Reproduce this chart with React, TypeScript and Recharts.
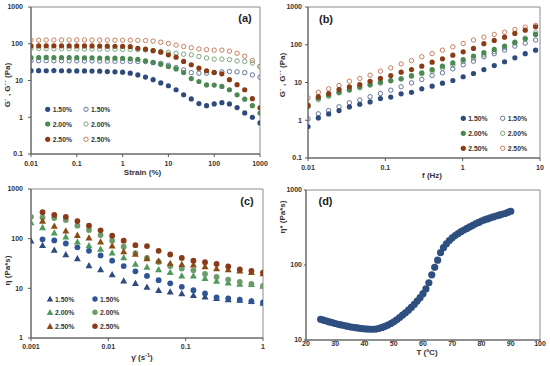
import React from 'react';
import { ScatterChart, Scatter, XAxis, YAxis, ReferenceArea } from 'recharts';

// ---------- (a) strain sweep ----------
const strainPct = [0.01, 0.0147, 0.0215, 0.0316, 0.0464, 0.0681, 0.1, 0.147, 0.215, 0.316, 0.464, 0.681, 1, 1.47, 2.15, 3.16, 4.64, 6.81, 10, 14.7, 21.5, 31.6, 46.4, 68.1, 100, 147, 215, 316, 464, 681, 1000];
const aGp150 = [18.5, 18.5, 18.4, 18.6, 18.4, 18.3, 18.2, 18.2, 18, 17.9, 17.5, 17.2, 16.8, 15.8, 14.2, 12.4, 10.5, 8.6, 7.2, 5.6, 4.1, 3.15, 2.35, 2.07, 2.3, 2.5, 2.3, 1.83, 1.31, 1.0, 0.7];
const aGpp150 = [34.5, 34.5, 34.6, 34.4, 34.5, 34.3, 34.2, 34, 34, 33.8, 33.6, 33.4, 33, 33, 32.8, 32.6, 30.6, 29.4, 26, 22.5, 19.4, 16.4, 15.8, 15.8, 16.4, 17.2, 17.5, 17.2, 16.4, 14.2, 12.3];
const aGp200 = [42, 42, 42.5, 42, 42, 42, 41.8, 41.5, 41.5, 41, 41, 40.5, 40, 39, 37.6, 34.5, 31, 27.6, 24, 20.6, 16.4, 11.3, 9.4, 7.6, 7.5, 6.9, 5.6, 4.1, 3.1, 2.07, 1.3];
const aGpp200 = [75, 74, 74, 73, 73, 73, 72, 72, 72, 71, 71, 71, 70, 70, 69, 68, 65, 62, 58, 55, 52, 50, 45, 41, 38, 38, 37, 34, 33, 30, 24];
const aGp250 = [87, 87, 88, 88, 88, 87.5, 87, 87, 87, 86.5, 86, 85.5, 85, 83, 75, 71, 65, 59, 50, 43, 33, 26.8, 21.7, 18.4, 16.6, 15.2, 10.5, 7.7, 5.6, 3.2, 1.8];
const aGpp250 = [125, 125, 126, 126, 127, 127, 127, 127, 126, 126, 126, 125, 125, 125, 124, 122, 118, 110, 102, 92, 84, 78, 72, 69, 67, 67, 63, 55, 46, 35, 24];
const strainTicks = [0.01, 0.1, 1, 10, 100, 1000];
const modTicks = [0.1, 1, 10, 100, 1000];

// ---------- (b) frequency sweep ----------
const freqHz = [0.01, 0.0136, 0.0185, 0.0252, 0.0343, 0.0467, 0.0635, 0.0864, 0.1175, 0.16, 0.218, 0.296, 0.403, 0.548, 0.746, 1.015, 1.38, 1.88, 2.56, 3.48, 4.73, 6.44, 8.77];
const bGp150 = [0.68, 1.15, 1.47, 1.8, 2.25, 2.65, 3.05, 3.75, 4.1, 5.0, 5.5, 6.8, 8, 9.6, 11.3, 14.2, 17.3, 22, 28, 35.5, 45, 58, 72];
const bGpp150 = [1.09, 1.48, 1.8, 2.27, 2.9, 3.4, 4.2, 5.1, 6.25, 7.7, 9.8, 12, 15.3, 18, 23, 29.5, 36.6, 48, 58, 72, 92, 110, 133];
const bGp200 = [2.3, 3.8, 4.6, 5.5, 6.5, 7.7, 8.8, 10.2, 11.3, 12.5, 15.3, 18, 22, 27, 33, 40.5, 50, 61.5, 75, 92, 117, 144, 188];
const bGpp200 = [2.6, 3.5, 4.3, 5.3, 6.2, 7.2, 8.5, 9.6, 11, 12.5, 14.5, 17, 20, 24, 29, 36, 44, 54, 66, 84, 110, 150, 210];
const bGp250 = [2.45, 4.2, 5.1, 6.5, 7.7, 8.8, 10.8, 12.8, 15.3, 18.8, 22, 27, 34.5, 42.5, 53, 65, 80, 107, 130, 159, 200, 243, 300];
const bGpp250 = [3.93, 5.5, 6.8, 8.3, 10.8, 12.8, 15.6, 20, 24.5, 31, 38, 48, 58.5, 72, 88, 108, 133, 159, 188, 215, 254, 293, 325];
const freqTicks = [0.01, 0.1, 1, 10];

// ---------- (c) flow curves ----------
const shearRate = [0.001, 0.00141, 0.002, 0.00282, 0.00398, 0.00562, 0.00794, 0.0112, 0.0158, 0.0224, 0.0316, 0.0447, 0.0631, 0.0891, 0.126, 0.178, 0.251, 0.355, 0.501, 0.708, 1];
const cTri150 = [91, 74, 59, 48, 40, 29, 24, 19, 14.2, 12.7, 10.7, 9.2, 8.5, 7.9, 7.3, 6.8, 6.3, 6.0, 5.8, 5.5, 5.1];
const cCir150 = [null, 97, 92, 80, 67, 57, 46, 36, 28, 22, 17.8, 14.6, 12.6, 10.7, 9.2, 7.9, 6.6, 6.3, 5.9, 5.5, 5.2];
const cTri200 = [211, 169, 132, 110, 87, 73, 62, 52, 42, 31, 27, 24, 21, 18, 18, 16, 14, 13, 12.3, 12.1, 11.2];
const cCir200 = [275, 268, 260, 237, 183, 149, 118, 91, 69, 51, 41, 34, 28, 25, 23, 19.5, 17, 15, 13.5, 12.3, 11.2];
const cTri250 = [null, 226, 180, 145, 118, 104, 87, 72, 55, 49, 40, 36, 32, 30.5, 30, 27.5, 25, 24, 22.7, 21, 20];
const cCir250 = [null, 342, 300, 275, 226, 183, 147, 115, 91, 74, 71, 57, 48, 41, 36, 33.5, 31, 27.5, 24, 22.5, 20.8];
const rateTicks = [0.001, 0.01, 0.1, 1];
const viscTicks = [1, 10, 100, 1000];

// ---------- (d) temperature ramp ----------
const tempC = [25, 26, 27, 28, 29, 30, 31, 32, 33, 34, 35, 36, 37, 38, 39, 40, 41, 42, 43, 44, 45, 46, 47, 48, 49, 50, 51, 52, 53, 54, 55, 56, 57, 58, 59, 60, 61, 62, 63, 64, 65, 66, 67, 68, 69, 70, 71, 72, 73, 74, 75, 76, 77, 78, 79, 80, 81, 82, 83, 84, 85, 86, 87, 88, 89, 90];
const etaStar = [18.9, 18.4, 17.9, 17.4, 17.0, 16.6, 16.2, 15.9, 15.6, 15.3, 15.0, 14.8, 14.6, 14.4, 14.2, 14.1, 14.0, 13.9, 13.9, 14.0, 14.3, 14.7, 15.2, 15.8, 16.6, 17.5, 18.6, 19.9, 21.4, 23.1, 25.0, 27.2, 29.8, 33.0, 36.7, 41.5, 48, 58, 74, 93, 116, 146, 170, 192, 212, 230, 247, 263, 278, 293, 307, 322, 338, 354, 370, 385, 399, 412, 425, 438, 450, 462, 474, 486, 503, 521];
const tempTicks = [20, 30, 40, 50, 60, 70, 80, 90, 100];
const etaTicks = [10, 100, 1000];

const FONT = '"Liberation Sans", Arial, sans-serif';
const INK = '#333333';
const AXIS = '#595959';
const FRAME = '#8c8c8c';

const BLUE = '#2f4b7e';
const BLUE_OPEN = '#53688f';
const GREEN = '#4a8a52';
const GREEN_OPEN = '#6f9c70';
const RED = '#8a3c14';
const RED_OPEN = '#c3714f';

type Kind = 'dot' | 'ring' | 'tri';

const pts = (xs: number[], ys: (number | null)[]) =>
  xs.map((x, i) => ({ x, y: ys[i] })).filter((p) => p.y != null);

const mark = (kind: Kind, color: string, r: number) => (props: any) => {
  const { cx, cy } = props;
  if (cx == null || cy == null) return <g />;
  if (kind === 'tri') {
    const h = r * 1.2;
    return <path d={`M${cx},${cy - h} L${cx + h},${cy + h * 0.8} L${cx - h},${cy + h * 0.8} Z`} fill={color} />;
  }
  if (kind === 'ring') return <circle cx={cx} cy={cy} r={r - 0.4} fill="none" stroke={color} strokeWidth={0.9} />;
  return <circle cx={cx} cy={cy} r={r} fill={color} />;
};

const tickStyle = { fontSize: 7, fontWeight: 700, fill: INK, fontFamily: FONT };
const titleStyle: React.CSSProperties = { fontSize: 8, fontWeight: 700, fill: INK, fontFamily: FONT };

const xTitle = (text: React.ReactNode, dy: number, dx: number) => (p: any) => {
  const vb = p.viewBox;
  return (
    <text x={vb.x + vb.width / 2 + dx} y={vb.y + dy} textAnchor="middle" style={titleStyle}>
      {text}
    </text>
  );
};

const yTitle = (text: string, x: number, dy: number) => (p: any) => {
  const vb = p.viewBox;
  const cy = vb.y + vb.height / 2 + dy;
  return (
    <text x={x} y={cy} transform={`rotate(-90 ${x} ${cy})`} textAnchor="middle" dominantBaseline="central" style={titleStyle}>
      {text}
    </text>
  );
};

interface Entry { x: number; y: number; kind: Kind; color: string; label: string; r: number }

const Overlay = ({ tag, tagX, tagY, entries }: { tag: string; tagX: number; tagY: number; entries: Entry[] }) => (
  <svg width={275} height={183} style={{ position: 'absolute', left: 0, top: 0, pointerEvents: 'none' }}>
    <text x={tagX} y={tagY} textAnchor="middle" dominantBaseline="central" style={{ fontSize: 11, fontWeight: 700, fill: '#222', fontFamily: FONT }}>
      {tag}
    </text>
    {entries.map((e, i) => (
      <g key={i}>
        {mark(e.kind, e.color, e.r)({ cx: e.x, cy: e.y })}
        <text x={e.x + 5} y={e.y} dominantBaseline="central" style={{ fontSize: 6.8, fontWeight: 700, fill: INK, fontFamily: FONT }}>
          {e.label}
        </text>
      </g>
    ))}
  </svg>
);

const legendRows = (x1: number, x2: number, ys: number[], left: [Kind, string][], right: [Kind, string][], r: number): Entry[] => {
  const labels = ['1.50%', '2.00%', '2.50%'];
  const out: Entry[] = [];
  ys.forEach((y, i) => {
    out.push({ x: x1, y, kind: left[i][0], color: left[i][1], label: labels[i], r });
    out.push({ x: x2, y, kind: right[i][0], color: right[i][1], label: labels[i], r });
  });
  return out;
};

const Panel = ({ left, top, children }: { left: number; top: number; children: React.ReactNode }) => (
  <div style={{ position: 'absolute', left, top, width: 275, height: 183 }}>{children}</div>
);

const PanelA = () => {
  const series: [number[], Kind, string][] = [
    [aGpp250, 'ring', RED_OPEN],
    [aGpp200, 'ring', GREEN_OPEN],
    [aGpp150, 'ring', BLUE_OPEN],
    [aGp250, 'dot', RED],
    [aGp200, 'dot', GREEN],
    [aGp150, 'dot', BLUE],
  ];
  return (
    <Panel left={0} top={0}>
      <ScatterChart width={275} height={183} margin={{ top: 7, right: 15, bottom: 0, left: 0 }}>
        <XAxis type="number" dataKey="x" scale="log" domain={[0.01, 1000]} ticks={strainTicks} interval={0} allowDataOverflow
          height={29} tickSize={3} tickMargin={4} tick={tickStyle} stroke={AXIS} label={xTitle('Strain (%)', 20.5, -3)} />
        <YAxis type="number" dataKey="y" scale="log" domain={[0.1, 1000]} ticks={modTicks} interval={0} allowDataOverflow
          width={31} tickSize={3} tickMargin={5} tick={tickStyle} stroke={AXIS} label={yTitle('G´ , G´´ (Pa)', 7, 4.5)} />
        <ReferenceArea x1={0.01} x2={1000} y1={0.1} y2={1000} fill="none" stroke={FRAME} strokeWidth={1} />
        {series.map(([ys, kind, color], i) => (
          <Scatter key={i} data={pts(strainPct, ys)} shape={mark(kind, color, 2.6)} isAnimationActive={false} />
        ))}
      </ScatterChart>
      <Overlay tag="(a)" tagX={245} tagY={18.3}
        entries={legendRows(47.7, 86, [109.3, 124, 139.3],
          [['dot', BLUE], ['dot', GREEN], ['dot', RED]],
          [['ring', BLUE_OPEN], ['ring', GREEN_OPEN], ['ring', RED_OPEN]], 2.6)} />
    </Panel>
  );
};

const PanelB = () => {
  const series: [number[], Kind, string][] = [
    [bGpp250, 'ring', RED_OPEN],
    [bGpp200, 'ring', GREEN_OPEN],
    [bGpp150, 'ring', BLUE_OPEN],
    [bGp200, 'dot', GREEN],
    [bGp250, 'dot', RED],
    [bGp150, 'dot', BLUE],
  ];
  return (
    <Panel left={275} top={0}>
      <ScatterChart width={275} height={183} margin={{ top: 7, right: 10, bottom: 0, left: 0 }}>
        <XAxis type="number" dataKey="x" scale="log" domain={[0.01, 10]} ticks={freqTicks} interval={0} allowDataOverflow
          height={25} tickSize={3} tickMargin={4} tick={tickStyle} stroke={AXIS} label={xTitle('f (Hz)', 20, 8)} />
        <YAxis type="number" dataKey="y" scale="log" domain={[0.1, 1000]} ticks={modTicks} interval={0} allowDataOverflow
          width={33} tickSize={3} tickMargin={3} tick={tickStyle} stroke={AXIS} label={yTitle('G´ , G´´ (Pa)', 7, -7.5)} />
        <ReferenceArea x1={0.01} x2={10} y1={0.1} y2={1000} fill="none" stroke={FRAME} strokeWidth={1} />
        {series.map(([ys, kind, color], i) => (
          <Scatter key={i} data={pts(freqHz, ys)} shape={mark(kind, color, 2.6)} isAnimationActive={false} />
        ))}
      </ScatterChart>
      <Overlay tag="(b)" tagX={51} tagY={18.7}
        entries={legendRows(188.3, 227.7, [118.3, 133.3, 148.3],
          [['dot', BLUE], ['dot', GREEN], ['dot', RED]],
          [['ring', BLUE_OPEN], ['ring', GREEN_OPEN], ['ring', RED_OPEN]], 2.6)} />
    </Panel>
  );
};

const C_TRI150 = '#2f4b7e';
const C_CIR150 = '#2f5596';
const C_TRI200 = '#4f9a5c';
const C_CIR200 = '#6d9b6a';
const C_TRI250 = '#8b4b16';
const C_CIR250 = '#8a3a18';

const PanelC = () => {
  const series: [(number | null)[], Kind, string][] = [
    [cTri150, 'tri', C_TRI150],
    [cCir150, 'dot', C_CIR150],
    [cTri200, 'tri', C_TRI200],
    [cCir200, 'dot', C_CIR200],
    [cTri250, 'tri', C_TRI250],
    [cCir250, 'dot', C_CIR250],
  ];
  return (
    <Panel left={0} top={183}>
      <ScatterChart width={275} height={183} margin={{ top: 6, right: 12, bottom: 0, left: 0 }}>
        <XAxis type="number" dataKey="x" scale="log" domain={[0.001, 1]} ticks={rateTicks} interval={0} allowDataOverflow
          height={28} tickSize={3} tickMargin={3} tick={tickStyle} stroke={AXIS}
          label={xTitle(<>γ̇ (s<tspan dy={-2.5} fontSize={5.5}>-1</tspan><tspan dy={2.5}>)</tspan></>, 21.5, -5)} />
        <YAxis type="number" dataKey="y" scale="log" domain={[1, 1000]} ticks={viscTicks} interval={0} allowDataOverflow
          width={31} tickSize={3} tickMargin={5} tick={tickStyle} stroke={AXIS} label={yTitle('η (Pa*s)', 7, 7)} />
        <ReferenceArea x1={0.001} x2={1} y1={1} y2={1000} fill="none" stroke={FRAME} strokeWidth={1} />
        {series.map(([ys, kind, color], i) => (
          <Scatter key={i} data={pts(shearRate, ys)} shape={mark(kind, color, 2.9)} isAnimationActive={false} />
        ))}
      </ScatterChart>
      <Overlay tag="(c)" tagX={247} tagY={17.5}
        entries={legendRows(50, 95, [116, 129.3, 143.3],
          [['tri', C_TRI150], ['tri', C_TRI200], ['tri', C_TRI250]],
          [['dot', C_CIR150], ['dot', C_CIR200], ['dot', C_CIR250]], 2.7)} />
    </Panel>
  );
};

const PanelD = () => (
  <Panel left={275} top={183}>
    <ScatterChart width={275} height={183} margin={{ top: 7, right: 10, bottom: 0, left: 0 }}>
      <XAxis type="number" dataKey="x" domain={[20, 100]} ticks={tempTicks} interval={0} allowDataOverflow
        height={26} tickSize={2} tickMargin={-1} tick={tickStyle} stroke={AXIS} label={xTitle('T (ºC)', 15, 4)} />
      <YAxis type="number" dataKey="y" scale="log" domain={[10, 1000]} ticks={etaTicks} interval={0} allowDataOverflow
        width={31} tickSize={2} tickMargin={2} tick={tickStyle} stroke={AXIS} label={yTitle('η* (Pa*s)', 7, -48)} />
      <ReferenceArea x1={20} x2={100} y1={10} y2={1000} fill="none" stroke={FRAME} strokeWidth={1} />
      <Scatter data={pts(tempC, etaStar)} shape={mark('dot', '#2f4f80', 3.6)} isAnimationActive={false} />
    </ScatterChart>
    <Overlay tag="(d)" tagX={50.5} tagY={17.7} entries={[]} />
  </Panel>
);

export default function App() {
  return (
    <div style={{ position: 'absolute', left: 0, top: 0, width: 550, height: 366, background: '#fff', overflow: 'hidden' }}>
      <PanelA />
      <PanelB />
      <PanelC />
      <PanelD />
    </div>
  );
}
